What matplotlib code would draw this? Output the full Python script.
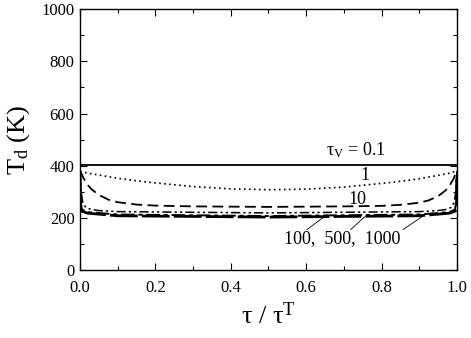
import numpy as np
import matplotlib
matplotlib.use("Agg")
import matplotlib.pyplot as plt
from matplotlib.ticker import MultipleLocator, FormatStrFormatter

plt.rcParams['font.family'] = ['Liberation Serif', 'DejaVu Serif']
plt.rcParams['mathtext.fontset'] = 'custom'
plt.rcParams['mathtext.rm'] = 'Liberation Serif'
plt.rcParams['mathtext.it'] = 'Liberation Serif:italic'

x_tv01 = [0.0, 1.0]
T_tv01 = [402, 402]

x_tv1 = [0.0, 0.02, 0.05, 0.1, 0.15, 0.2, 0.3, 0.4, 0.5, 0.6, 0.7, 0.8, 0.85, 0.9, 0.95, 0.98, 1.0]
T_tv1 = [378, 372, 364, 352, 342, 334, 320, 311, 308, 310, 318, 332, 340, 350, 363, 371, 380]

x_tv10 = [0.0, 0.005, 0.01, 0.02, 0.03, 0.05, 0.075, 0.1, 0.15, 0.2, 0.3, 0.5, 0.7, 0.8, 0.85, 0.9, 0.925, 0.95, 0.97, 0.98, 0.99, 0.995, 1.0]
T_tv10 = [380, 365, 350, 327, 310, 288, 270, 260, 251, 247, 244, 242, 244, 246, 250, 258, 267, 283, 305, 322, 347, 363, 382]

x_tv100 = [0.0, 0.003, 0.007, 0.015, 0.03, 0.05, 0.1, 0.5, 0.9, 0.95, 0.97, 0.985, 0.993, 0.997, 1.0]
T_tv100 = [380, 300, 260, 240, 232, 228, 224, 219, 224, 228, 232, 240, 260, 300, 380]

x_tv500 = [0.0, 0.002, 0.005, 0.02, 0.1, 0.5, 0.9, 0.98, 0.995, 0.998, 1.0]
T_tv500 = [370, 260, 232, 222, 213, 207, 213, 222, 232, 260, 370]

x_tv1000 = [0.0, 0.001, 0.004, 0.02, 0.1, 0.5, 0.9, 0.98, 0.996, 0.999, 1.0]
T_tv1000 = [360, 250, 226, 218, 208, 203, 208, 218, 226, 250, 360]

fig = plt.figure(figsize=(4.71, 3.38), dpi=100)
ax = fig.add_axes([0.170, 0.201, 0.800, 0.772])

ax.plot(x_tv01, T_tv01, color='black', lw=1.3, ls='-')
ax.plot(x_tv1, T_tv1, color='black', lw=1.2, ls=(0, (1, 2)))
ax.plot(x_tv10, T_tv10, color='black', lw=1.3, ls=(0, (6, 3)))
ax.plot(x_tv100, T_tv100, color='black', lw=1.1, ls=(0, (6, 2, 1.5, 2, 1.5, 2)))
ax.plot(x_tv500, T_tv500, color='black', lw=1.4, ls=(0, (7, 2, 2, 2)))
ax.plot(x_tv1000, T_tv1000, color='black', lw=2.0, ls=(0, (10, 1.5)))

ax.set_xlim(0, 1)
ax.set_ylim(0, 1000)
ax.xaxis.set_major_locator(MultipleLocator(0.2))
ax.xaxis.set_minor_locator(MultipleLocator(0.1))
ax.yaxis.set_major_locator(MultipleLocator(200))
ax.yaxis.set_minor_locator(MultipleLocator(100))
ax.tick_params(which='both', direction='in', top=True, right=True, labelsize=12, width=0.8)
ax.tick_params(which='major', length=5)
ax.tick_params(which='minor', length=3)
ax.xaxis.set_major_formatter(FormatStrFormatter('%.1f'))
ax.tick_params(axis='x', pad=7)
ax.tick_params(axis='y', pad=4)
for s in ax.spines.values():
    s.set_linewidth(1.0)

ax.set_ylabel(r'T$_{\mathrm{d}}$ (K)', fontsize=19, labelpad=7)
ax.set_xlabel(r'τ / τ$^{\mathrm{T}}$', fontsize=19, labelpad=5)

ax.text(0.732, 458, r'τ$_{\mathrm{V}}$ = 0.1', fontsize=13, ha='center', va='center')
ax.text(0.756, 364, '1', fontsize=13, ha='center', va='center')
ax.text(0.737, 272, '10', fontsize=13, ha='center', va='center')
ax.text(0.695, 122, '100,  500,  1000', fontsize=13, ha='center', va='center')

ax.plot([0.602, 0.655], [155, 212], color='black', lw=0.6)
ax.plot([0.718, 0.756], [155, 205], color='black', lw=0.6)
ax.plot([0.857, 0.907], [155, 204], color='black', lw=0.6)

fig.savefig('out.png', dpi=100)
